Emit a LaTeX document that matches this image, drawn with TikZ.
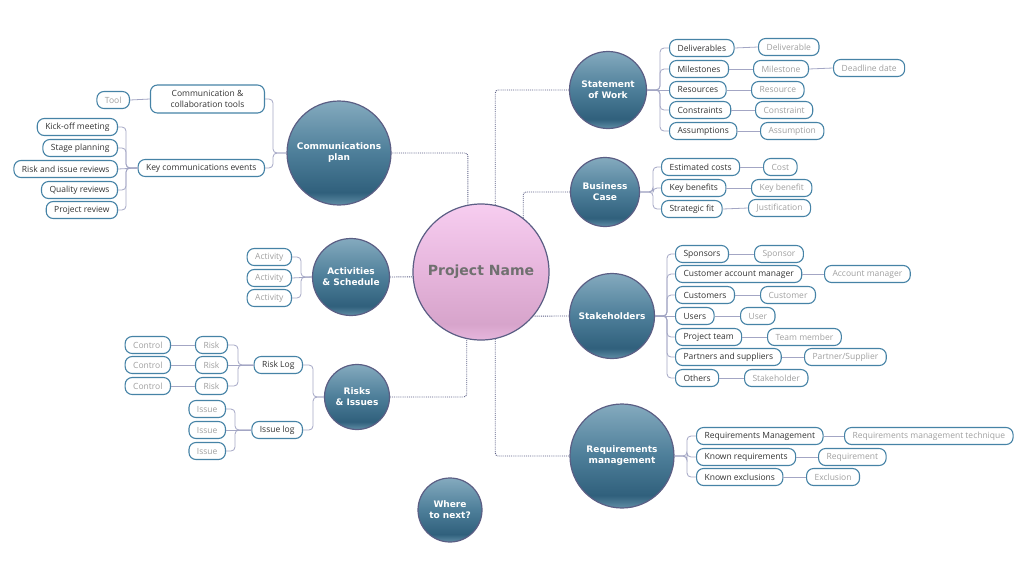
\documentclass[tikz,border=0pt]{standalone}
\usepackage{fontspec}
\setmainfont{Open Sans}
\newfontfamily\bubblefont{DejaVu Sans}
\usepackage{tikz}
\usetikzlibrary{arrows.meta, positioning, calc}
\definecolor{rim}    {HTML}{5B5E84}
\definecolor{bubtop} {HTML}{84AABE}
\definecolor{bubmid} {HTML}{4D7E99}
\definecolor{bubbot} {HTML}{30607C}
\definecolor{bubedge}{HTML}{5F8DA5}
\definecolor{pinktop}{HTML}{F7CDF0}
\definecolor{pinkmid}{HTML}{E6B5DC}
\definecolor{pinkbot}{HTML}{D7A4CB}
\definecolor{boxrim} {HTML}{4683A6}
\definecolor{ink}    {HTML}{333333}
\definecolor{faint}  {HTML}{A0A0A0}
\definecolor{twig}   {HTML}{A3A6C4}
\definecolor{hubtext}{HTML}{707070}
\pgfdeclareverticalshading{bubshade}{100bp}{color(0bp)=(bubedge); color(25bp)=(bubedge);
  color(31bp)=(bubbot); color(50bp)=(bubmid); color(75bp)=(bubtop); color(100bp)=(bubtop)}
\pgfdeclareverticalshading{hubshade}{100bp}{color(0bp)=(pinkmid); color(25bp)=(pinkmid);
  color(31bp)=(pinkbot); color(50bp)=(pinkmid); color(75bp)=(pinktop); color(100bp)=(pinktop)}

\begin{document}
\begin{tikzpicture}[x=1pt, y=-1pt,
    bubble/.style={circle, draw=rim, line width=1.2pt, shading=bubshade,
                   text=white, align=center, inner sep=0pt,
                   font=\bubblefont\bfseries\fontsize{9}{11}\selectfont},
    hub/.style={circle, draw=rim, line width=1.2pt, shading=hubshade,
                text=hubtext, inner sep=0pt,
                font=\bubblefont\bfseries\fontsize{14}{16}\selectfont},
    item/.style={draw=boxrim, fill=white, rounded corners=7pt, line width=1.1pt,
                 minimum height=17pt, inner xsep=8pt, inner ysep=2pt,
                 anchor=west, text=ink, font=\fontsize{8.5}{10.5}\selectfont},
    leaf/.style={item, text=faint},
    link/.style={draw=twig, line width=0.8pt, rounded corners=4pt},
    tie/.style={draw=rim, densely dotted, line width=0.9pt, rounded corners=3pt}
  ]
    \useasboundingbox (0,0) rectangle (1024,576);

    % central idea and main topics
    \node[hub, minimum size=136pt] (pn) at (481,272) {Project Name};
    \node[bubble, minimum size=77pt]  (sow) at (608,90)  {Statement\\ of Work};
    \node[bubble, minimum size=69pt]  (bc)  at (605,192) {Business\\ Case};
    \node[bubble, minimum size=85pt]  (stk) at (612,316) {Stakeholders};
    \node[bubble, minimum size=104pt] (req) at (622,456) {Requirements\\ management};
    \node[bubble, minimum size=104pt] (com) at (339,153) {Communications\\ plan};
    \node[bubble, minimum size=77pt]  (act) at (351,277) {Activities\\ \& Schedule};
    \node[bubble, minimum size=65pt]  (ris) at (357,397) {Risks\\ \& Issues};
    \node[bubble, minimum size=64pt]  (nxt) at (450,510) {Where\\ to next?};

    \draw[tie] (com.east) -| (pn.101);
    \draw[tie] (pn.78) |- (sow.west);
    \draw[tie] (pn.52) |- (bc.west);
    \draw[tie] (act.east) -- (pn.184);
    \draw[tie] (pn.-40) -- (stk.west);
    \draw[tie] (ris.east) -| (pn.-102);
    \draw[tie] (pn.-78) |- (req.west);

    % statement of work
    \coordinate (sowS) at (660,90);
    \node[item] (dlv) at (669,48)  {Deliverables};
    \node[item] (mls) at (669,69)  {Milestones};
    \node[item] (rsc) at (669,90)  {Resources};
    \node[item] (cns) at (669,110) {Constraints};
    \node[item] (asm) at (669,131) {Assumptions};
    \node[leaf] (dlv2) at (758,47)  {Deliverable};
    \node[leaf] (mls2) at (753,69)  {Milestone};
    \node[leaf] (ddl)  at (833,68)  {Deadline date};
    \node[leaf] (rsc2) at (751,90)  {Resource};
    \node[leaf] (cns2) at (755,110) {Constraint};
    \node[leaf] (asm2) at (760,131) {Assumption};
    \draw[link] (sow.east) -- (sowS) |- (dlv.west);
    \draw[link] (sow.east) -- (sowS) |- (mls.west);
    \draw[link] (sow.east) -- (rsc.west);
    \draw[link] (sow.east) -- (sowS) |- (cns.west);
    \draw[link] (sow.east) -- (sowS) |- (asm.west);
    \draw[link] (dlv.east) -- (dlv2.west);
    \draw[link] (mls.east) -- (mls2.west);
    \draw[link] (mls2.east) -- (ddl.west);
    \draw[link] (rsc.east) -- (rsc2.west);
    \draw[link] (cns.east) -- (cns2.west);
    \draw[link] (asm.east) -- (asm2.west);

    % business case
    \coordinate (bcS) at (653,192);
    \node[item] (cst) at (661,167) {Estimated costs};
    \node[item] (ben) at (661,188) {Key benefits};
    \node[item] (fit) at (661,209) {Strategic fit};
    \node[leaf] (cst2) at (763,167) {Cost};
    \node[leaf] (ben2) at (751,188) {Key benefit};
    \node[leaf] (fit2) at (748,208) {Justification};
    \draw[link] (bc.east) -- (bcS) |- (cst.west);
    \draw[link] (bc.east) -- (bcS) |- (ben.west);
    \draw[link] (bc.east) -- (bcS) |- (fit.west);
    \draw[link] (cst.east) -- (cst2.west);
    \draw[link] (ben.east) -- (ben2.west);
    \draw[link] (fit.east) -- (fit2.west);

    % stakeholders
    \coordinate (stkS) at (667,316);
    \node[item] (spn) at (675,254) {Sponsors};
    \node[item] (cam) at (675,274) {Customer account manager};
    \node[item] (cus) at (675,295) {Customers};
    \node[item] (usr) at (675,316) {Users};
    \node[item] (tem) at (675,337) {Project team};
    \node[item] (prt) at (675,357) {Partners and suppliers};
    \node[item] (oth) at (675,378) {Others};
    \node[leaf] (spn2) at (754,254) {Sponsor};
    \node[leaf] (cam2) at (824,274) {Account manager};
    \node[leaf] (cus2) at (760,295) {Customer};
    \node[leaf] (usr2) at (740,316) {User};
    \node[leaf] (tem2) at (767,337) {Team member};
    \node[leaf] (prt2) at (804,357) {Partner/Supplier};
    \node[leaf] (oth2) at (744,378) {Stakeholder};
    \draw[link] (stk.east) -- (stkS) |- (spn.west);
    \draw[link] (stk.east) -- (stkS) |- (cam.west);
    \draw[link] (stk.east) -- (stkS) |- (cus.west);
    \draw[link] (stk.east) -- (usr.west);
    \draw[link] (stk.east) -- (stkS) |- (tem.west);
    \draw[link] (stk.east) -- (stkS) |- (prt.west);
    \draw[link] (stk.east) -- (stkS) |- (oth.west);
    \draw[link] (spn.east) -- (spn2.west);
    \draw[link] (cam.east) -- (cam2.west);
    \draw[link] (cus.east) -- (cus2.west);
    \draw[link] (usr.east) -- (usr2.west);
    \draw[link] (tem.east) -- (tem2.west);
    \draw[link] (prt.east) -- (prt2.west);
    \draw[link] (oth.east) -- (oth2.west);

    % requirements
    \coordinate (reqS) at (687,456);
    \node[item] (rqm) at (696,436) {Requirements Management};
    \node[item] (rqk) at (696,457) {Known requirements};
    \node[item] (rqx) at (696,477) {Known exclusions};
    \node[leaf] (rqm2) at (844,436) {Requirements management technique};
    \node[leaf] (rqk2) at (818,457) {Requirement};
    \node[leaf] (rqx2) at (806,477) {Exclusion};
    \draw[link] (req.east) -- (reqS) |- (rqm.west);
    \draw[link] (req.east) -- (reqS) |- (rqk.west);
    \draw[link] (req.east) -- (reqS) |- (rqx.west);
    \draw[link] (rqm.east) -- (rqm2.west);
    \draw[link] (rqk.east) -- (rqk2.west);
    \draw[link] (rqx.east) -- (rqx2.west);

    % communications plan
    \coordinate (comS) at (273,153);
    \coordinate (kceS) at (126,168);
    \node[item, anchor=east, align=center, minimum width=114pt,
          minimum height=28pt] (cct) at (265,99)
      {Communication \&\\ collaboration tools};
    \node[item, anchor=east] (kce) at (265,168) {Key communications events};
    \node[leaf, anchor=east] (tool) at (130,100) {Tool};
    \node[item, anchor=east] (kom) at (118,127) {Kick-off meeting};
    \node[item, anchor=east] (stg) at (118,148) {Stage planning};
    \node[item, anchor=east] (rir) at (118,169) {Risk and issue reviews};
    \node[item, anchor=east] (qlr) at (118,190) {Quality reviews};
    \node[item, anchor=east] (prv) at (118,210) {Project review};
    \draw[link] (com.west) -- (comS) |- (cct.east);
    \draw[link] (com.west) -- (comS) |- (kce.east);
    \draw[link] (cct.west) -- (tool.east);
    \draw[link] (kce.west) -- (kceS) |- (kom.east);
    \draw[link] (kce.west) -- (kceS) |- (stg.east);
    \draw[link] (kce.west) -- (rir.east);
    \draw[link] (kce.west) -- (kceS) |- (qlr.east);
    \draw[link] (kce.west) -- (kceS) |- (prv.east);

    % activities
    \coordinate (actS) at (301,277);
    \node[leaf, anchor=east] (ac1) at (292,257) {Activity};
    \node[leaf, anchor=east] (ac2) at (292,278) {Activity};
    \node[leaf, anchor=east] (ac3) at (292,298) {Activity};
    \draw[link] (act.west) -- (actS) |- (ac1.east);
    \draw[link] (act.west) -- (ac2.east);
    \draw[link] (act.west) -- (actS) |- (ac3.east);

    % risks and issues
    \coordinate (risS) at (313,397);
    \coordinate (rlgS) at (238,365);
    \coordinate (ilgS) at (235,430);
    \node[item, anchor=east] (rlg) at (303,365) {Risk Log};
    \node[item, anchor=east] (ilg) at (303,430) {Issue log};
    \node[leaf, anchor=east] (rk1) at (228,345) {Risk};
    \node[leaf, anchor=east] (rk2) at (228,365) {Risk};
    \node[leaf, anchor=east] (rk3) at (228,386) {Risk};
    \node[leaf, anchor=east] (ct1) at (171,345) {Control};
    \node[leaf, anchor=east] (ct2) at (171,365) {Control};
    \node[leaf, anchor=east] (ct3) at (171,386) {Control};
    \node[leaf, anchor=east] (is1) at (226,409) {Issue};
    \node[leaf, anchor=east] (is2) at (226,430) {Issue};
    \node[leaf, anchor=east] (is3) at (226,451) {Issue};
    \draw[link] (ris.west) -- (risS) |- (rlg.east);
    \draw[link] (ris.west) -- (risS) |- (ilg.east);
    \draw[link] (rlg.west) -- (rlgS) |- (rk1.east);
    \draw[link] (rlg.west) -- (rk2.east);
    \draw[link] (rlg.west) -- (rlgS) |- (rk3.east);
    \draw[link] (rk1.west) -- (ct1.east);
    \draw[link] (rk2.west) -- (ct2.east);
    \draw[link] (rk3.west) -- (ct3.east);
    \draw[link] (ilg.west) -- (ilgS) |- (is1.east);
    \draw[link] (ilg.west) -- (is2.east);
    \draw[link] (ilg.west) -- (ilgS) |- (is3.east);
  \end{tikzpicture}
\end{document}
